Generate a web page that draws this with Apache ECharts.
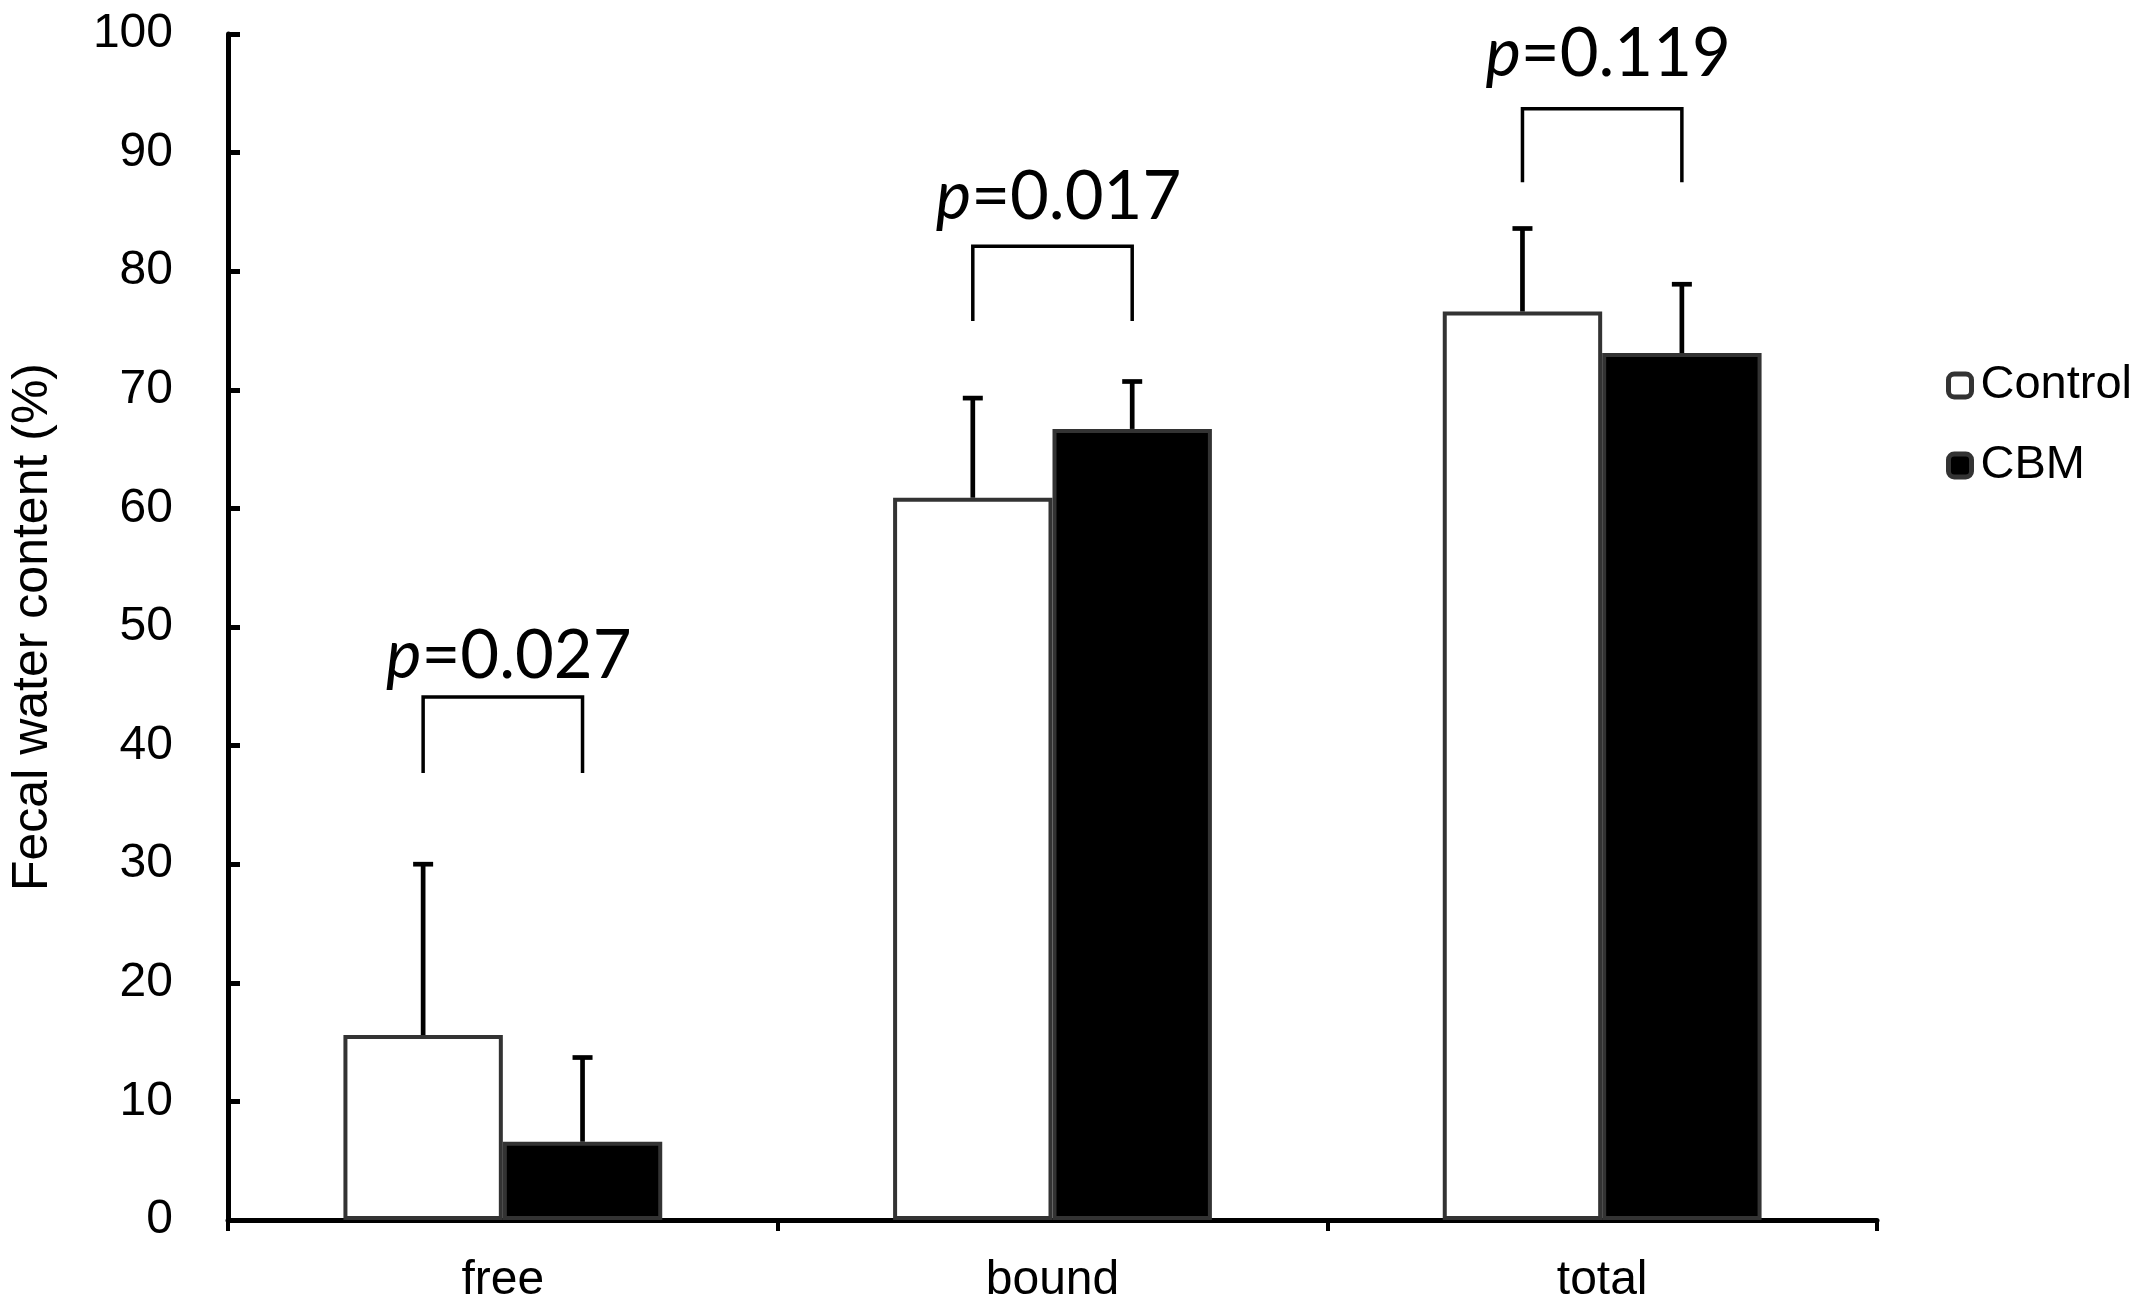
<!DOCTYPE html>
<html>
<head>
<meta charset="utf-8">
<title>Fecal water content</title>
<style>
    html, body { margin: 0; padding: 0; background: #fff; }
    #main { width: 2145px; height: 1312px; }
</style>
</head>
<body>
<div id="main"></div>
<script src="https://cdn.jsdelivr.net/npm/echarts@6/dist/echarts.min.js"></script>
<script type="text/javascript">
    // values
    var categories = ['free', 'bound', 'total'];
    var controlMean = [15.6, 60.9, 76.6];
    var controlSD = [14.4, 8.4, 7.0];
    var cbmMean = [6.6, 66.7, 73.1];
    var cbmSD = [7.1, 4.0, 5.8];
    var pValues = ['0.027', '0.017', '0.119'];
    var bracketTop = [44.1, 82.1, 93.7];
    var bracketLeg = [37.7, 75.8, 87.5];
    var pTextY = [47.5, 86.2, 98.3];
    var yTicks = [0, 10, 20, 30, 40, 50, 60, 70, 80, 90, 100];

    var BAR_FRAC = 0.29;
    var FONT = '"Liberation Sans", Arial, sans-serif';

    function errData(mean, sd) {
        var out = [];
        for (var i = 0; i < mean.length; i++) {
            out.push([i, mean[i], mean[i] + sd[i]]);
        }
        return out;
    }

    function errRender(sign) {
        return function (params, api) {
            var idx = api.value(0);
            var base = api.coord([idx, api.value(1)]);
            var top = api.coord([idx, api.value(2)]);
            var bw = api.size([1, 0])[0] * BAR_FRAC;
            var x = base[0] + sign * bw / 2;
            var st = { stroke: '#000', lineWidth: 4.7 };
            return {
                type: 'group',
                children: [
                    { type: 'line', shape: { x1: x, y1: base[1], x2: x, y2: top[1] }, style: st },
                    { type: 'line', shape: { x1: x - 10, y1: top[1], x2: x + 10, y2: top[1] }, style: st }
                ]
            };
        };
    }

    var bracketData = [];
    for (var i = 0; i < categories.length; i++) {
        bracketData.push([i, bracketTop[i], bracketLeg[i], pTextY[i]]);
    }

    function bracketRender(params, api) {
        var idx = api.value(0);
        var t = api.coord([idx, api.value(1)]);
        var l = api.coord([idx, api.value(2)]);
        var p = api.coord([idx, api.value(3)]);
        var bw = api.size([1, 0])[0] * BAR_FRAC;
        var x1 = t[0] - bw / 2;
        var x2 = t[0] + bw / 2;
        return {
            type: 'group',
            children: [
                {
                    type: 'polyline',
                    shape: { points: [[x1, l[1]], [x1, t[1]], [x2, t[1]], [x2, l[1]]] },
                    style: { stroke: '#000', lineWidth: 3.5, fill: null }
                },
                {
                    type: 'text',
                    x: t[0] + 6,
                    y: p[1],
                    style: {
                        text: '{i|p}=' + pValues[params.dataIndex],
                        align: 'center',
                        verticalAlign: 'middle',
                        fontFamily: 'Lato, "Open Sans", sans-serif',
                        fontSize: 67,
                        fill: '#000',
                        rich: {
                            i: { fontStyle: 'italic', fontFamily: 'Lato, "Open Sans", sans-serif', fontSize: 67, fill: '#000' }
                        }
                    }
                }
            ]
        };
    }

    var chart = echarts.init(document.getElementById('main'));

    var option = {
        backgroundColor: '#fff',
        animation: false,
        grid: { left: 228, right: 268, top: 34, bottom: 92 },
        legend: {
            data: ['Control', 'CBM'],
            orient: 'vertical',
            left: 1941,
            top: 357,
            itemWidth: 23,
            itemHeight: 23,
            itemGap: 33,
            icon: 'roundRect',
            itemStyle: { borderColor: '#333', borderWidth: 5 },
            textStyle: { fontFamily: FONT, fontSize: 47, color: '#000', lineHeight: 46, padding: [0, 0, 0, 4] }
        },
        xAxis: {
            type: 'category',
            data: categories,
            axisLine: { lineStyle: { color: '#000', width: 5 } },
            axisTick: { show: true, length: 11, lineStyle: { color: '#000', width: 4 } },
            axisLabel: { fontFamily: FONT, fontSize: 48, color: '#000', margin: 37 }
        },
        yAxis: {
            type: 'value',
            min: 0,
            max: 100,
            interval: 10,
            name: 'Fecal water content (%)',
            nameLocation: 'middle',
            nameGap: 170,
            nameTextStyle: { fontFamily: FONT, fontSize: 50, color: '#000' },
            axisLine: { show: true, lineStyle: { color: '#000', width: 5 } },
            axisTick: { show: true, inside: true, length: 12, lineStyle: { color: '#000', width: 5 } },
            axisLabel: {
                fontFamily: FONT, fontSize: 48, color: '#000', margin: 55,
                formatter: function (v) { return yTicks.indexOf(v) >= 0 ? String(v) : ''; }
            },
            splitLine: { show: false }
        },
        series: [
            {
                name: 'Control',
                type: 'bar',
                data: controlMean,
                barWidth: (BAR_FRAC * 100) + '%',
                barGap: '0%',
                itemStyle: { color: '#fff', borderColor: '#333', borderWidth: 4 },
                emphasis: { disabled: true }
            },
            {
                name: 'CBM',
                type: 'bar',
                data: cbmMean,
                barWidth: (BAR_FRAC * 100) + '%',
                barGap: '0%',
                itemStyle: { color: '#000', borderColor: '#333', borderWidth: 4 },
                emphasis: { disabled: true }
            },
            {
                name: 'Control SD',
                type: 'custom',
                data: errData(controlMean, controlSD),
                renderItem: errRender(-1),
                z: 5,
                silent: true
            },
            {
                name: 'CBM SD',
                type: 'custom',
                data: errData(cbmMean, cbmSD),
                renderItem: errRender(1),
                z: 5,
                silent: true
            },
            {
                name: 'p',
                type: 'custom',
                data: bracketData,
                renderItem: bracketRender,
                z: 6,
                silent: true
            }
        ]
    };

    chart.setOption(option);
</script>
</body>
</html>
